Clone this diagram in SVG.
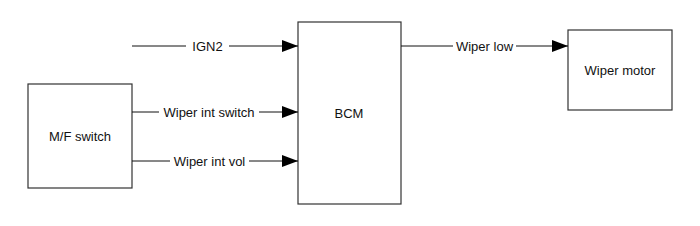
<svg xmlns="http://www.w3.org/2000/svg" width="700" height="226" viewBox="0 0 700 226">
<style>
.box{fill:#fff;stroke:#333;stroke-width:1.2}
.ln{stroke:#111;stroke-width:1;fill:none}
.t{font-family:"Liberation Sans",Arial,sans-serif;font-size:13px;fill:#111;text-anchor:middle}
</style>
<defs>
<marker id="ah" viewBox="0 0 16 12" refX="16" refY="6" markerWidth="16" markerHeight="12" markerUnits="userSpaceOnUse" orient="auto">
<path d="M0,0 L16,6 L0,12 Z" fill="#000"/>
</marker>
</defs>
<g id="node-mf"><rect class="box" x="28" y="84" width="104" height="104"/><text class="t" x="80" y="141">M/F switch</text></g>
<g id="node-bcm"><rect class="box" x="298" y="22" width="103" height="182"/><text class="t" x="349" y="118">BCM</text></g>
<g id="node-motor"><rect class="box" x="568" y="30" width="104" height="80"/><text class="t" x="620" y="75">Wiper motor</text></g>
<g id="connectors">
<line class="ln" x1="132" y1="46" x2="186" y2="46"/>
<line class="ln" x1="229" y1="46" x2="298" y2="46" marker-end="url(#ah)"/>
<text class="t" x="207.5" y="50.5">IGN2</text>
<line class="ln" x1="132" y1="112" x2="159" y2="112"/>
<line class="ln" x1="259" y1="112" x2="298" y2="112" marker-end="url(#ah)"/>
<text class="t" x="209" y="116.5">Wiper int switch</text>
<line class="ln" x1="132" y1="161" x2="170" y2="161"/>
<line class="ln" x1="249" y1="161" x2="298" y2="161" marker-end="url(#ah)"/>
<text class="t" x="209.5" y="165.5">Wiper int vol</text>
<line class="ln" x1="401" y1="46" x2="453" y2="46"/>
<line class="ln" x1="516" y1="46" x2="568" y2="46" marker-end="url(#ah)"/>
<text class="t" x="484.5" y="50.5">Wiper low</text>
</g>
</svg>
